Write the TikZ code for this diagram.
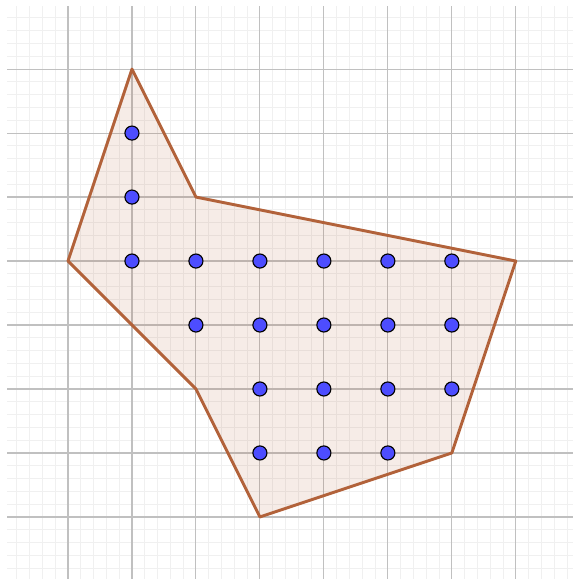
\documentclass[tikz,border=0pt]{standalone}
\usepackage{tikz}
\definecolor{polyedge}{RGB}{178,98,58}
\definecolor{ptfill}{RGB}{77,77,255}
\definecolor{minorgrid}{RGB}{240,240,240}
\definecolor{majorgrid}{RGB}{192,192,192}
\tikzset{
	latpt/.style={circle, draw=black, fill=ptfill, line width=0.5pt, inner sep=0pt, minimum size=0.22cm}
}
\begin{document}
\begin{tikzpicture}
		\useasboundingbox (-0.0625,0.03) rectangle (8.89,9.08);
		\begin{scope}
			\clip (0.05,0.03) rectangle (8.89,8.98);
			\draw[minorgrid, line width=0.4pt, step=0.2] (0,0) grid (9,9);
			\draw[majorgrid, line width=0.5pt, step=1] (0,0) grid (9,9);
		\end{scope}
		
		\filldraw[fill=polyedge, fill opacity=0.12, draw=polyedge, line width=1.3pt, line join=round]
			(2,8) -- (3,6) -- (8,5) -- (7,2) -- (4,1) -- (3,3) -- (1,5) -- cycle;
		
		\foreach \y in {6,7} \node[latpt] (p2\y) at (2,\y) {};
		\foreach \x in {2,...,7} \node[latpt] (p\x5) at (\x,5) {};
		\foreach \x in {3,...,7} \node[latpt] (p\x4) at (\x,4) {};
		\foreach \x in {4,...,7} \node[latpt] (p\x3) at (\x,3) {};
		\foreach \x in {4,...,6} \node[latpt] (p\x2) at (\x,2) {};
		
	\end{tikzpicture}
\end{document}
